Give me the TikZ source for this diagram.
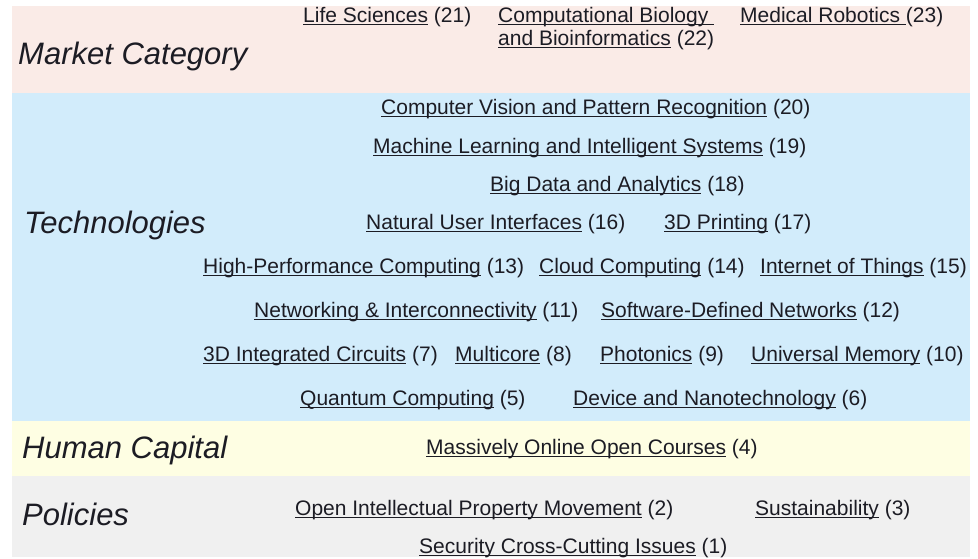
\documentclass[tikz,border=0pt]{standalone}
\usepackage{fontspec}
\setmainfont{Liberation Sans}
\definecolor{pinkbg}{HTML}{FAEBE7}
\definecolor{bluebg}{HTML}{D2ECFB}
\definecolor{yellowbg}{HTML}{FEFEE3}
\definecolor{greybg}{HTML}{F0F0F0}
\definecolor{ink}{HTML}{1C1C24}
\newsavebox\lnkbox
\newcommand\lnk[1]{\sbox\lnkbox{#1}\rlap{\rule[-2.6pt]{\wd\lnkbox}{1pt}}\usebox\lnkbox}
\begin{document}
\begin{tikzpicture}[x=1pt,y=-1pt,
  item/.style={anchor=base west, inner sep=0pt, font=\fontsize{21}{25}\selectfont, text=ink},
  cat/.style={anchor=base west, inner sep=0pt, font=\fontsize{31}{37}\selectfont\itshape, text=ink}]
\useasboundingbox (0,0) rectangle (978,558);
\fill[pinkbg] (12,6) rectangle (970,93);
\fill[bluebg] (12,93) rectangle (970,421);
\fill[yellowbg] (12,421) rectangle (970,476);
\fill[greybg] (12,476) rectangle (970,557);
% categories
\node[cat] (mc) at (18,64) {Market Category};
\node[cat] (tech) at (24,233) {Technologies};
\node[cat] (hc) at (22,458) {Human Capital};
\node[cat] (pol) at (22,525) {Policies};
% market
\node[item] (n21) at (303,22.5) {\lnk{Life Sciences} (21)};
\node[item] (n22a) at (498,22.5) {\lnk{Computational Biology }};
\node[item] (n22b) at (498,45.5) {\lnk{and Bioinformatics} (22)};
\node[item] (n23) at (740,22.5) {\lnk{Medical Robotics }(23)};
% technologies
\node[item] (n20) at (381,114.5) {\lnk{Computer Vision and Pattern Recognition} (20)};
\node[item] (n19) at (373,153.5) {\lnk{Machine Learning and Intelligent Systems} (19)};
\node[item] (n18) at (490,191.5) {\lnk{Big Data and Analytics} (18)};
\node[item] (n16) at (366,229.5) {\lnk{Natural User Interfaces} (16)};
\node[item] (n17) at (664,229.5) {\lnk{3D Printing} (17)};
\node[item] (n13) at (203,273) {\lnk{High-Performance Computing} (13)};
\node[item] (n14) at (539,273) {\lnk{Cloud Computing} (14)};
\node[item] (n15) at (760,273) {\lnk{Internet of Things} (15)};
\node[item] (n11) at (254,317.5) {\lnk{Networking \& Interconnectivity} (11)};
\node[item] (n12) at (601,317.5) {\lnk{Software-Defined Networks} (12)};
\node[item] (n7) at (203,361.5) {\lnk{3D Integrated Circuits} (7)};
\node[item] (n8) at (455,361.5) {\lnk{Multicore} (8)};
\node[item] (n9) at (600,361.5) {\lnk{Photonics} (9)};
\node[item] (n10) at (751,361.5) {\lnk{Universal Memory} (10)};
\node[item] (n5) at (300,405.5) {\lnk{Quantum Computing} (5)};
\node[item] (n6) at (573,405.5) {\lnk{Device and Nanotechnology} (6)};
% human capital
\node[item] (n4) at (426,454.5) {\lnk{Massively Online Open Courses} (4)};
% policies
\node[item] (n2) at (295,515.5) {\lnk{Open Intellectual Property Movement} (2)};
\node[item] (n3) at (755,515.5) {\lnk{Sustainability} (3)};
\node[item] (n1) at (419,553.5) {\lnk{Security Cross-Cutting Issues} (1)};
\end{tikzpicture}
\end{document}
